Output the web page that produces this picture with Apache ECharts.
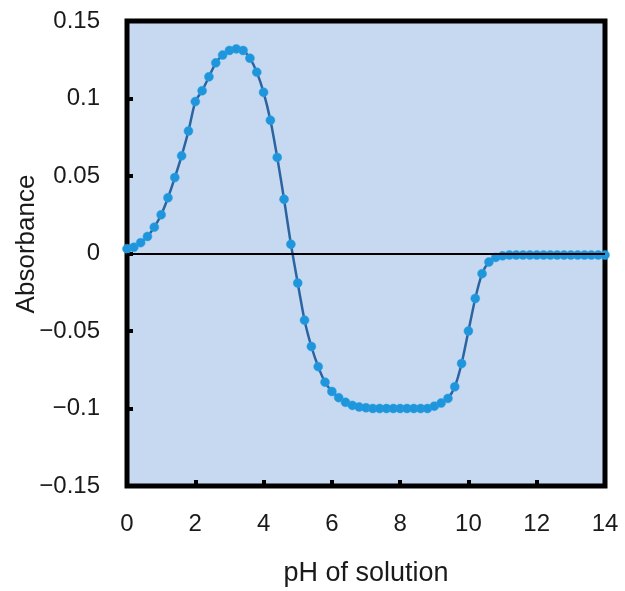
<!DOCTYPE html>
<html>
<head>
<meta charset="utf-8">
<script src="https://cdn.jsdelivr.net/npm/echarts@6/dist/echarts.min.js"></script>
<style>
html,body{margin:0;padding:0;background:#fff;}
#chart{width:625px;height:591px;}
</style>
</head>
<body>
<div id="chart"></div>
<script>
var phValues = [0,0.2,0.4,0.6,0.8,1.0,1.2,1.4,1.6,1.8,2.0,2.2,2.4,2.6,2.8,3.0,3.2,3.4,3.6,3.8,4.0,4.2,4.4,4.6,4.8,5.0,5.2,5.4,5.6,5.8,6.0,6.2,6.4,6.6,6.8,7.0,7.2,7.4,7.6,7.8,8.0,8.2,8.4,8.6,8.8,9.0,9.2,9.4,9.6,9.8,10.0,10.2,10.4,10.6,10.8,11.0,11.2,11.4,11.6,11.8,12.0,12.2,12.4,12.6,12.8,13.0,13.2,13.4,13.6,13.8,14.0];
var absorbance = [0.003,0.004,0.007,0.011,0.017,0.025,0.036,0.049,0.063,0.079,0.098,0.105,0.114,0.123,0.128,0.131,0.132,0.131,0.126,0.117,0.104,0.086,0.062,0.035,0.006,-0.019,-0.043,-0.060,-0.073,-0.083,-0.089,-0.093,-0.096,-0.098,-0.099,-0.0995,-0.100,-0.100,-0.100,-0.100,-0.100,-0.100,-0.100,-0.100,-0.100,-0.0985,-0.0965,-0.0935,-0.086,-0.071,-0.050,-0.029,-0.013,-0.0055,-0.0025,-0.0015,-0.001,-0.001,-0.001,-0.001,-0.001,-0.001,-0.001,-0.001,-0.001,-0.001,-0.001,-0.001,-0.001,-0.001,-0.001];
var yTickValues = [-0.15,-0.1,-0.05,0,0.05,0.1,0.15];
var yTickLabels = ['\u22120.15','\u22120.1','\u22120.05','0','0.05','0.1','0.15'];
var xTickLabels = ['0','2','4','6','8','10','12','14'];
var xAxisTitle = 'pH of solution';
var yAxisTitle = 'Absorbance';

var seriesData = phValues.map(function(x, i){ return [x, absorbance[i]]; });
var font = '"Liberation Sans", Arial, sans-serif';

var chart = echarts.init(document.getElementById('chart'), null, {renderer:'canvas'});
chart.setOption({
  animation: false,
  backgroundColor: '#ffffff',
  grid: {
    left: 127, right: 20, top: 21, bottom: 105,
    outerBoundsMode: 'none', containLabel: false,
    show: true, backgroundColor: '#c6d9f0', borderColor: '#000', borderWidth: 5
  },
  graphic: [{
    type: 'text',
    x: 27, y: 244,
    rotation: Math.PI / 2,
    style: {
      text: yAxisTitle, fontFamily: font, fontSize: 26, fill: '#1a1a1a',
      align: 'center', verticalAlign: 'middle'
    }
  }],
  xAxis: {
    type: 'value', min: 0, max: 14, interval: 2, position: 'bottom',
    name: xAxisTitle, nameLocation: 'middle', nameGap: 74,
    nameTextStyle: {fontFamily: font, fontSize: 27, color: '#1a1a1a'},
    axisLine: {show: false, onZero: false},
    axisTick: {show: true, inside: true, length: 6, lineStyle: {color: '#000', width: 4}},
    splitLine: {show: false},
    axisLabel: {
      margin: 26, fontFamily: font, fontSize: 24, color: '#1a1a1a',
      formatter: function(v){ return xTickLabels[Math.round(v/2)]; }
    }
  },
  yAxis: {
    type: 'value', min: -0.15, max: 0.15, interval: 0.05,
    axisLine: {show: false, onZero: false},
    axisTick: {show: true, inside: true, length: 6, lineStyle: {color: '#000', width: 4}},
    splitLine: {show: false},
    axisLabel: {
      margin: 27, fontFamily: font, fontSize: 24, color: '#1a1a1a',
      formatter: function(v){
        var idx = Math.round((v + 0.15) / 0.05);
        return yTickLabels[idx];
      }
    }
  },
  series: [{
    type: 'line',
    data: seriesData,
    smooth: 0.2,
    symbol: 'circle',
    symbolSize: 9,
    itemStyle: {color: '#1f95db', borderColor: '#2aa3e8', borderWidth: 0.5},
    lineStyle: {color: '#2b64a0', width: 2.5},
    z: 3,
    markLine: {
      silent: true, symbol: 'none', animation: false,
      label: {show: false},
      lineStyle: {color: '#000', width: 2, type: 'solid'},
      data: [{yAxis: 0}]
    }
  }]
});
</script>
</body>
</html>
